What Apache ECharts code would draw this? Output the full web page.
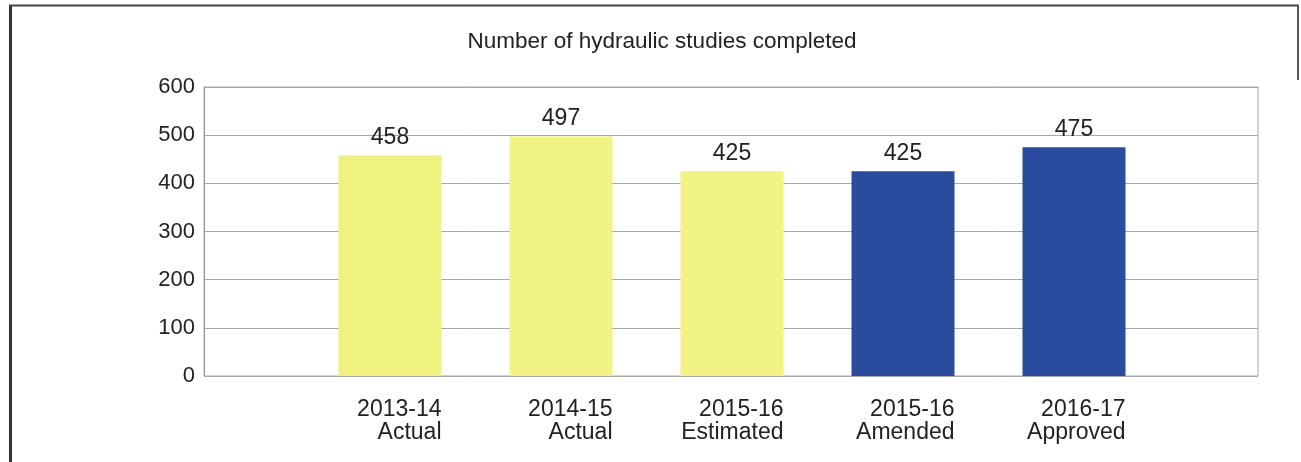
<!DOCTYPE html>
<html>
<head>
<meta charset="utf-8">
<script src="https://cdn.jsdelivr.net/npm/echarts@6/dist/echarts.min.js"></script>
<style>
  html, body { margin: 0; padding: 0; background: #fff; }
  #chart { width: 1301px; height: 462px; }
</style>
</head>
<body>
<div id="chart"></div>
<script>
const years = ['2013-14', '2014-15', '2015-16', '2015-16', '2016-17'];
const stages = ['Actual', 'Actual', 'Estimated', 'Amended', 'Approved'];
const studies = [458, 497, 425, 425, 475];
const barColors = ['#eff180', '#f1f385', '#f1f385', '#2b4c9e', '#2b4c9e'];
const yTicks = { min: 0, max: 600, interval: 100 };

const font = '"Liberation Sans", Arial, sans-serif';
const textColor = '#222';

const chart = echarts.init(document.getElementById('chart'), null, { renderer: 'canvas' });

chart.setOption({
  animation: false,
  title: {
    text: 'Number of hydraulic studies completed',
    left: 657,
    top: 25,
    textAlign: 'center',
    textStyle: { fontFamily: font, fontSize: 22.5, fontWeight: 'normal', color: textColor }
  },
  grid: [
    // frame with the gridlines, a bit wider than the bars
    { left: 204, right: 43, top: 87, bottom: 86, show: true, borderColor: '#a8a8a8', borderWidth: 1 },
    // bars
    { left: 304.5, right: 141.5, top: 87, bottom: 86 }
  ],
  xAxis: [
    { gridIndex: 0, type: 'value', show: false },
    {
      gridIndex: 1,
      type: 'category',
      data: years.map((y, i) => y + '\n' + stages[i]),
      axisLine: { show: false },
      axisTick: { show: false },
      axisLabel: {
        margin: 22,
        width: 103,
        align: 'center',
        formatter: v => v.split('\n').map(s => '{a|' + s + '}').join('\n'),
        rich: {
          a: { align: 'right', fontFamily: font, fontSize: 23, lineHeight: 23, color: textColor }
        }
      }
    }
  ],
  yAxis: [
    {
      gridIndex: 0,
      type: 'value',
      min: yTicks.min, max: yTicks.max, interval: yTicks.interval,
      axisLine: { show: true, lineStyle: { color: '#999' } },
      axisTick: { show: false },
      axisLabel: { margin: 9, fontFamily: font, fontSize: 22, color: textColor },
      splitLine: { lineStyle: { color: '#a8a8a8', width: 1 } }
    },
    {
      gridIndex: 1,
      type: 'value',
      min: yTicks.min, max: yTicks.max, interval: yTicks.interval,
      show: false,
      splitLine: { show: false }
    }
  ],
  series: [
    {
      type: 'bar',
      xAxisIndex: 1,
      yAxisIndex: 1,
      barWidth: 103,
      data: studies.map((v, i) => ({ value: v, itemStyle: { color: barColors[i] } })),
      label: {
        show: true,
        position: 'top',
        distance: 6,
        fontFamily: font,
        fontSize: 23,
        color: textColor
      }
    }
  ],
  graphic: [
    { type: 'line', shape: { x1: 10.5, y1: 5, x2: 10.5, y2: 462 }, style: { stroke: '#333', lineWidth: 3 } },
    { type: 'line', shape: { x1: 9, y1: 5.5, x2: 1299, y2: 5.5 }, style: { stroke: '#444', lineWidth: 2 } },
    { type: 'line', shape: { x1: 1298, y1: 5, x2: 1298, y2: 80 }, style: { stroke: '#555', lineWidth: 2 } }
  ]
});
</script>
</body>
</html>
